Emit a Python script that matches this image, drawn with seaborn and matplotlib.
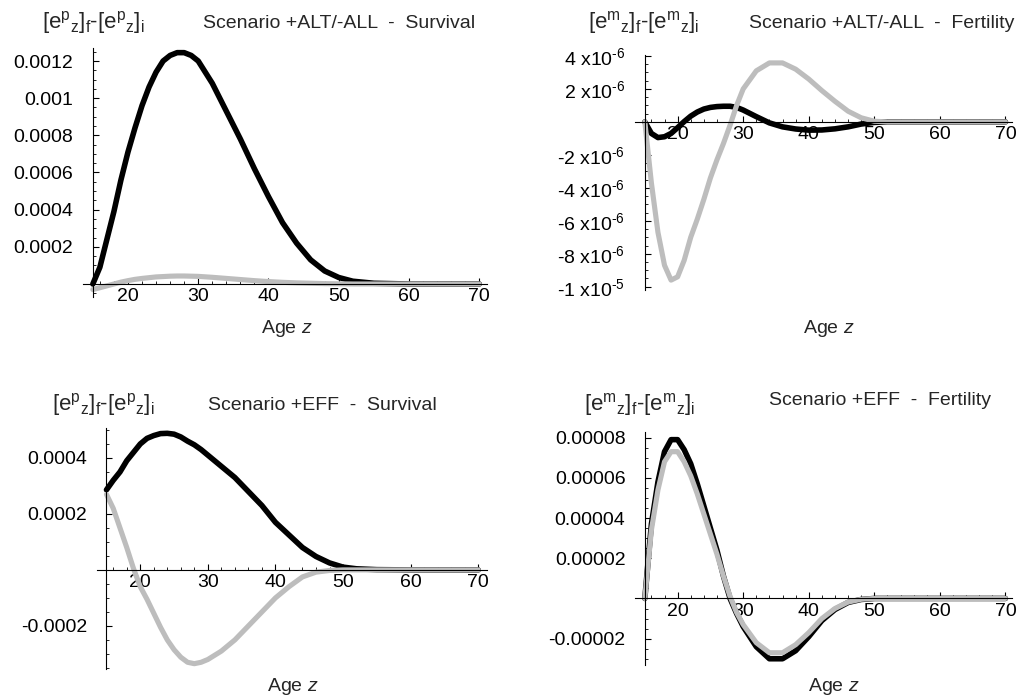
import numpy as np
import pandas as pd
import matplotlib
matplotlib.use("Agg")
import matplotlib.pyplot as plt
import seaborn as sns
from matplotlib.ticker import FixedLocator, FuncFormatter

# ---------------- data ----------------
ages = [15, 16, 17, 18, 19, 20, 21, 22, 23, 24, 25, 26, 27, 28, 29, 30,
        32, 34, 36, 38, 40, 42, 44, 46, 48, 50, 52, 55, 60, 65, 70]

# +ALT/-ALL  Survival
surv_alt_black = [0, 0.00009, 0.00024, 0.00039, 0.00056, 0.00071, 0.00084, 0.00096,
                  0.00106, 0.00114, 0.0012, 0.00123, 0.001245, 0.001245, 0.00123, 0.0012,
                  0.00108, 0.00093, 0.00078, 0.00062, 0.00047, 0.00033, 0.00022, 0.00013,
                  0.00007, 0.000035, 0.000015, 0.000004, 0, 0, 0]
surv_alt_gray = [-0.00003, -0.00002, -0.00001, 0.0, 0.00001, 0.000018, 0.000025, 0.00003,
                 0.000034, 0.000038, 0.00004, 0.000042, 0.000043, 0.000043, 0.000042, 0.000041,
                 0.000036, 0.00003, 0.000024, 0.000018, 0.000013, 0.000009, 0.000006, 0.000004,
                 0.000002, 0.000001, 0, 0, 0, 0, 0]

# +ALT/-ALL  Fertility
fert_alt_black = [0, -0.7e-6, -0.95e-6, -0.9e-6, -0.7e-6, -0.35e-6, 0.02e-6, 0.35e-6,
                  0.6e-6, 0.78e-6, 0.88e-6, 0.93e-6, 0.95e-6, 0.95e-6, 0.88e-6, 0.72e-6,
                  0.32e-6, -0.06e-6, -0.3e-6, -0.43e-6, -0.5e-6, -0.49e-6, -0.42e-6, -0.3e-6,
                  -0.13e-6, -0.03e-6, 0, 0, 0, 0, 0]
fert_alt_gray = [0, -3.7e-6, -6.7e-6, -8.7e-6, -9.6e-6, -9.4e-6, -8.4e-6, -7.0e-6,
                 -5.9e-6, -4.7e-6, -3.4e-6, -2.3e-6, -1.3e-6, -0.2e-6, 1.0e-6, 2.0e-6,
                 3.1e-6, 3.58e-6, 3.58e-6, 3.2e-6, 2.6e-6, 1.9e-6, 1.25e-6, 0.65e-6,
                 0.25e-6, 0.04e-6, 0, 0, 0, 0, 0]

# +EFF  Survival
surv_eff_black = [0.000286, 0.00032, 0.00035, 0.00039, 0.00042, 0.00045, 0.00047, 0.00048,
                  0.000487, 0.000488, 0.000485, 0.000475, 0.00046, 0.000447, 0.00043, 0.00041,
                  0.00037, 0.00033, 0.00028, 0.00023, 0.00017, 0.000125, 0.00008, 0.000048,
                  0.000025, 0.00001, 0.000004, 0.000001, 0, 0, 0]
surv_eff_gray = [0.00027, 0.00022, 0.00015, 0.00008, 0.000005, -0.00006, -0.000105, -0.000155,
                 -0.000205, -0.00025, -0.000285, -0.000312, -0.00033, -0.000335, -0.00033, -0.00032,
                 -0.00029, -0.00025, -0.0002, -0.00015, -0.0001, -0.00006, -0.000025, -0.000008,
                 -0.000002, 0, 0, 0, 0, 0, 0]

# +EFF  Fertility
fert_eff_black = [0, 0.000037, 0.000058, 0.000073, 0.000079, 0.000079, 0.000074, 0.000067,
                  0.000057, 0.000046, 0.000035, 0.000024, 0.000011, 0.0, -0.0000075, -0.000014,
                  -0.000024, -0.00003, -0.00003, -0.000026, -0.000019, -0.000011, -0.0000055, -0.000002,
                  -0.0000005, 0, 0, 0, 0, 0, 0]
fert_eff_gray = [0, 0.000034, 0.000054, 0.000068, 0.000073, 0.000073, 0.000068, 0.000061,
                 0.000052, 0.000042, 0.000032, 0.000022, 0.000011, 0.000001, -0.000007, -0.000013,
                 -0.000022, -0.000027, -0.000027, -0.000023, -0.000017, -0.00001, -0.000005, -0.0000018,
                 -0.0000004, 0, 0, 0, 0, 0, 0]

x_major = [20, 30, 40, 50, 60, 70]
x_minor = [16, 18, 22, 24, 26, 28, 32, 34, 36, 38, 42, 44, 46, 48, 52, 54, 56, 58, 62, 64, 66, 68]

yticks_1 = [0.0002, 0.0004, 0.0006, 0.0008, 0.001, 0.0012]
yticks_2 = [-1e-5, -8e-6, -6e-6, -4e-6, -2e-6, 2e-6, 4e-6]
yticks_3 = [-0.0002, 0.0002, 0.0004]
yticks_4 = [-0.00002, 0.00002, 0.00004, 0.00006, 0.00008]

titles = ["Scenario +ALT/-ALL  -  Survival", "Scenario +ALT/-ALL  -  Fertility",
          "Scenario +EFF  -  Survival", "Scenario +EFF  -  Fertility"]
ylab_p = "[e$^\\mathregular{p}$$_\\mathregular{z}$]$_\\mathregular{f}$-[e$^\\mathregular{p}$$_\\mathregular{z}$]$_\\mathregular{i}$"
ylab_m = "[e$^\\mathregular{m}$$_\\mathregular{z}$]$_\\mathregular{f}$-[e$^\\mathregular{m}$$_\\mathregular{z}$]$_\\mathregular{i}$"
xlab = "Age $\\it{z}$"

# ---------------- style ----------------
sns.set_theme(style="white")
plt.rcParams["font.family"] = ["Liberation Sans", "DejaVu Sans"]
plt.rcParams["mathtext.fontset"] = "custom"
plt.rcParams["mathtext.rm"] = "Liberation Sans"
plt.rcParams["mathtext.it"] = "Liberation Sans:italic"
plt.rcParams["mathtext.bf"] = "Liberation Sans:bold"
plt.rcParams["axes.unicode_minus"] = False

FS = 14
W, H = 1023, 697
fig = plt.figure(figsize=(W / 100, H / 100), dpi=100)
fig.patch.set_facecolor("white")


def rect(l, r, t, b):
    return [l / W, 1 - b / H, (r - l) / W, (b - t) / H]


def dec_fmt(v, pos):
    return f"{v:.5f}".rstrip("0")


def sci_fmt(v, pos):
    if abs(v) < 1e-12:
        return ""
    exp = int(np.floor(np.log10(abs(v)) + 1e-9))
    mant = v / 10 ** exp
    return f"{mant:.0f} x10$^{{\\text{{{exp}}}}}$"


panels = [
    dict(pos=rect(83, 487, 48, 297), xlim=(13.6, 71.1), ylim=(-0.00007, 0.00127),
         black=surv_alt_black, gray=surv_alt_gray, yt=yticks_1, ymin=0.00005, fmt=dec_fmt,
         ylab=ylab_p, ylab_xy=(93, 28), title_xy=(339, 28), xlab_xy=(287, 333)),
    dict(pos=rect(635, 1012, 55, 290), xlim=(13.5, 71.0), ylim=(-1.02e-5, 4.06e-6),
         black=fert_alt_black, gray=fert_alt_gray, yt=yticks_2, ymin=0.5e-6, fmt=sci_fmt,
         ylab=ylab_m, ylab_xy=(644, 28), title_xy=(882, 28), xlab_xy=(829, 333)),
    dict(pos=rect(97, 487, 428, 669), xlim=(13.6, 71.3), ylim=(-0.000354, 0.000507),
         black=surv_eff_black, gray=surv_eff_gray, yt=yticks_3, ymin=0.00005, fmt=dec_fmt,
         ylab=ylab_p, ylab_xy=(103, 410), title_xy=(322, 410), xlab_xy=(293, 691)),
    dict(pos=rect(635, 1012, 432, 665), xlim=(13.5, 71.0), ylim=(-0.0000331, 0.0000828),
         black=fert_eff_black, gray=fert_eff_gray, yt=yticks_4, ymin=0.000005, fmt=dec_fmt,
         ylab=ylab_m, ylab_xy=(640, 410), title_xy=(880, 405), xlab_xy=(834, 691)),
]

for i, p in enumerate(panels):
    ax = fig.add_axes(p["pos"])
    n = len(ages)
    df = pd.DataFrame({"age": ages * 2,
                       "value": list(p["black"]) + list(p["gray"]),
                       "series": ["black"] * n + ["gray"] * n})
    sns.lineplot(data=df, x="age", y="value", hue="series", hue_order=["black", "gray"],
                 palette={"black": "#000000", "gray": "#bdbdbd"}, linewidth=4.0,
                 legend=False, sort=False, ax=ax, estimator=None)
    for ln in ax.get_lines():
        ln.set_solid_capstyle("round")
        ln.set_solid_joinstyle("round")
    ax.get_lines()[1].set_linewidth(3.7)

    ax.set_xlim(*p["xlim"])
    ax.set_ylim(*p["ylim"])
    ax.set_xlabel("")
    ax.set_ylabel("")
    ax.set_facecolor("white")
    for s in ["top", "right"]:
        ax.spines[s].set_visible(False)
    ax.spines["left"].set_position(("data", 15))
    ax.spines["bottom"].set_position(("data", 0))
    for s in ["left", "bottom"]:
        ax.spines[s].set_color("black")
        ax.spines[s].set_linewidth(0.8)

    ax.xaxis.set_major_locator(FixedLocator(x_major))
    ax.xaxis.set_minor_locator(FixedLocator(x_minor))
    yt = p["yt"]
    lo, hi = p["ylim"]
    step = p["ymin"]
    ymin_ticks = [k * step for k in range(int(np.ceil(lo / step)), int(np.floor(hi / step)) + 1)
                  if k != 0 and all(abs(k * step - t) > step * 0.1 for t in yt)]
    ax.yaxis.set_major_locator(FixedLocator(yt))
    ax.yaxis.set_minor_locator(FixedLocator(ymin_ticks))
    ax.yaxis.set_major_formatter(FuncFormatter(p["fmt"]))
    ax.tick_params(axis="both", which="major", direction="in", length=4, width=0.8,
                   color="black", labelsize=FS, labelcolor="black")
    ax.tick_params(axis="both", which="minor", direction="in", length=2.2, width=0.6,
                   color="black")
    ax.tick_params(axis="x", which="major", pad=3, bottom=True)
    ax.tick_params(axis="x", which="minor", bottom=True)
    ax.tick_params(axis="y", which="major", pad=14, left=True)
    ax.tick_params(axis="y", which="minor", left=True)

    fig.text(p["ylab_xy"][0] / W, 1 - p["ylab_xy"][1] / H, p["ylab"], ha="center",
             va="baseline", fontsize=16)
    fig.text(p["title_xy"][0] / W, 1 - p["title_xy"][1] / H, titles[i], ha="center",
             va="baseline", fontsize=FS)
    fig.text(p["xlab_xy"][0] / W, 1 - p["xlab_xy"][1] / H, xlab, ha="center",
             va="baseline", fontsize=FS)

fig.savefig("out.png", dpi=100, facecolor="white")
